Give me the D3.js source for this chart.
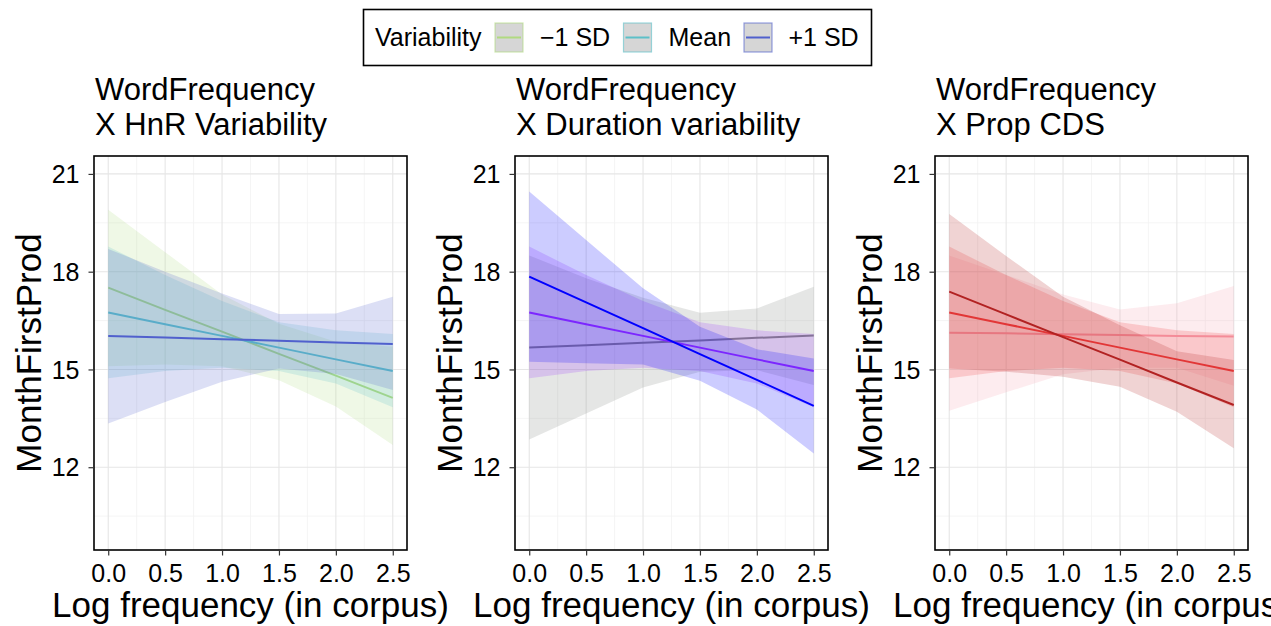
<!DOCTYPE html>
<html>
<head>
<meta charset="utf-8">
<script src="https://cdn.jsdelivr.net/npm/d3@7"></script>
<style>
  body { margin: 0; background: #fff; }
  text { font-family: "Liberation Sans", Arial, sans-serif; fill: #000; }
</style>
</head>
<body>
<script>
var levels = ["\u22121 SD", "Mean", "+1 SD"];
var freq = [0, 0.5, 1, 1.5, 2, 2.5];
var xTicks = [0, 0.5, 1, 1.5, 2, 2.5];
var yTicks = [12, 15, 18, 21];
var titles = [["WordFrequency", "X HnR Variability"],
              ["WordFrequency", "X Duration variability"],
              ["WordFrequency", "X Prop CDS"]];

// rows: -1 SD, Mean, +1 SD
var hnrFit = [[17.51, 16.83, 16.16, 15.48, 14.81, 14.13],
              [16.75, 16.39, 16.03, 15.67, 15.31, 14.95],
              [16.03, 15.98, 15.93, 15.88, 15.83, 15.78]];
var hnrLow = [[15.10, 15.15, 15.10, 14.67, 13.86, 12.68],
              [14.73, 14.95, 15.05, 14.95, 14.57, 13.84],
              [13.34, 14.00, 14.62, 15.03, 14.86, 14.37]];
var hnrHigh = [[19.90, 18.60, 17.30, 16.40, 15.85, 15.70],
               [18.77, 17.90, 17.10, 16.45, 16.20, 16.09],
               [18.70, 18.00, 17.33, 16.70, 16.72, 17.23]];

var durFit = [[15.67, 15.74, 15.82, 15.89, 15.97, 16.04],
              [16.75, 16.39, 16.03, 15.67, 15.31, 14.95],
              [17.85, 17.06, 16.27, 15.47, 14.68, 13.88]];
var durLow = [[12.85, 13.65, 14.45, 14.93, 14.98, 14.52],
              [14.73, 14.95, 15.05, 14.95, 14.57, 13.84],
              [15.24, 15.19, 15.15, 14.65, 13.77, 12.42]];
var durHigh = [[18.50, 17.80, 17.20, 16.74, 16.87, 17.54],
               [18.77, 17.90, 17.10, 16.45, 16.20, 16.09],
               [20.46, 18.97, 17.49, 16.31, 15.62, 15.34]];

var cdsFit = [[16.13, 16.11, 16.08, 16.06, 16.03, 16.01],
              [16.75, 16.39, 16.03, 15.67, 15.31, 14.95],
              [17.39, 16.69, 15.99, 15.30, 14.60, 13.91]];
var cdsLow = [[13.73, 14.30, 14.85, 15.05, 15.05, 14.50],
              [14.73, 14.95, 15.05, 14.95, 14.57, 13.84],
              [15.03, 14.93, 14.78, 14.47, 13.70, 12.58]];
var cdsHigh = [[18.50, 17.90, 17.30, 16.84, 17.03, 17.56],
               [18.77, 17.90, 17.10, 16.45, 16.20, 16.09],
               [19.77, 18.48, 17.23, 16.36, 15.56, 15.29]];

var panelColors = [["#b0da80", "#5cc0c8", "#5060cd"],
                   ["#7f827f", "#9b30ff", "#0000ff"],
                   ["#f5a0b0", "#ee3b3b", "#b22222"]];

var panels = [
  {fit: hnrFit, low: hnrLow, high: hnrHigh, left: 94},
  {fit: durFit, low: durLow, high: durHigh, left: 515},
  {fit: cdsFit, low: cdsLow, high: cdsHigh, left: 935}
];

var width = 1271, height = 626;
var pw = 313, plotTop = 156, plotBottom = 550;

var svg = d3.select("body").append("svg")
    .attr("width", width)
    .attr("height", height);

var y = d3.scaleLinear().domain([9.46, 21.55]).range([plotBottom, plotTop]);

panels.forEach(function(p, k) {
  var x = d3.scaleLinear().domain([-0.125, 2.625]).range([p.left, p.left + pw]);
  var g = svg.append("g");

  // grid
  var xMinor = [0.25, 0.75, 1.25, 1.75, 2.25];
  var yMinor = [10.5, 13.5, 16.5, 19.5];
  g.selectAll(".xminor").data(xMinor).enter().append("line")
    .attr("x1", function(d){ return x(d); }).attr("x2", function(d){ return x(d); })
    .attr("y1", plotTop).attr("y2", plotBottom)
    .attr("stroke", "#f2f2f2").attr("stroke-width", 0.8);
  g.selectAll(".yminor").data(yMinor).enter().append("line")
    .attr("x1", p.left).attr("x2", p.left + pw)
    .attr("y1", function(d){ return y(d); }).attr("y2", function(d){ return y(d); })
    .attr("stroke", "#f2f2f2").attr("stroke-width", 0.8);
  g.selectAll(".xmajor").data(xTicks).enter().append("line")
    .attr("x1", function(d){ return x(d); }).attr("x2", function(d){ return x(d); })
    .attr("y1", plotTop).attr("y2", plotBottom)
    .attr("stroke", "#e6e6e6").attr("stroke-width", 1.1);
  g.selectAll(".ymajor").data(yTicks).enter().append("line")
    .attr("x1", p.left).attr("x2", p.left + pw)
    .attr("y1", function(d){ return y(d); }).attr("y2", function(d){ return y(d); })
    .attr("stroke", "#e6e6e6").attr("stroke-width", 1.1);

  var area = d3.area()
    .x(function(d, i){ return x(freq[i]); })
    .y0(function(d){ return y(d[0]); })
    .y1(function(d){ return y(d[1]); });
  var line = d3.line()
    .x(function(d, i){ return x(freq[i]); })
    .y(function(d){ return y(d); });

  // ribbon then line for each level
  levels.forEach(function(lv, i) {
    var band = p.low[i].map(function(v, j){ return [v, p.high[i][j]]; });
    g.append("path").attr("d", area(band))
      .attr("fill", panelColors[k][i]).attr("fill-opacity", 0.2);
    g.append("path").attr("d", line(p.fit[i]))
      .attr("fill", "none").attr("stroke", panelColors[k][i]).attr("stroke-width", 2);
  });

  // border
  g.append("rect").attr("x", p.left).attr("y", plotTop)
    .attr("width", pw).attr("height", plotBottom - plotTop)
    .attr("fill", "none").attr("stroke", "#000").attr("stroke-width", 1.6);

  // axes
  var xAxis = d3.axisBottom(x).tickValues(xTicks).tickFormat(d3.format(".1f"))
    .tickSize(5.5).tickPadding(4);
  var ax = g.append("g").attr("transform", "translate(0," + plotBottom + ")").call(xAxis);
  var yAxis = d3.axisLeft(y).tickValues(yTicks).tickSize(5.5).tickPadding(4);
  var ay = g.append("g").attr("transform", "translate(" + p.left + ",0)").call(yAxis);
  [ax, ay].forEach(function(a) {
    a.select(".domain").remove();
    a.selectAll(".tick line").attr("stroke", "#333").attr("stroke-width", 1.2);
    a.selectAll(".tick text").style("font-size", "25px")
      .style("font-family", "'Liberation Sans', Arial, sans-serif").attr("fill", "#000");
  });
  ax.selectAll(".tick text").attr("dy", null).attr("y", 32);
  ay.selectAll(".tick text").attr("x", -14.5).attr("dy", "0.35em");

  // titles
  g.append("text").attr("x", p.left + 1).attr("y", 100).style("font-size", "31px").text(titles[k][0]);
  g.append("text").attr("x", p.left + 1).attr("y", 135).style("font-size", "31px").text(titles[k][1]);

  // axis labels
  g.append("text").attr("x", p.left + pw / 2).attr("y", 617)
    .attr("text-anchor", "middle").style("font-size", "35px")
    .text("Log frequency (in corpus)");
  g.append("text")
    .attr("transform", "translate(" + (p.left - 53) + "," + ((plotTop + plotBottom) / 2) + ") rotate(-90)")
    .attr("text-anchor", "middle").style("font-size", "35px")
    .text("MonthFirstProd");
});

// legend
var legend = svg.append("g");
legend.append("rect").attr("x", 363.5).attr("y", 9.5).attr("width", 508).attr("height", 56)
  .attr("fill", "#fff").attr("stroke", "#000").attr("stroke-width", 1.6);
legend.append("text").attr("x", 375).attr("y", 46).style("font-size", "25px").text("Variability");

var keyX = [495, 623.5, 744];
var labX = [540, 668.5, 788.5];
levels.forEach(function(lv, i) {
  var c = panelColors[0][i];
  legend.append("rect").attr("x", keyX[i]).attr("y", 23).attr("width", 28).attr("height", 29)
    .attr("fill", "#d6d6d6").attr("stroke", c).attr("stroke-opacity", 0.6).attr("stroke-width", 1.2);
  legend.append("line").attr("x1", keyX[i] + 2).attr("x2", keyX[i] + 26)
    .attr("y1", 37.5).attr("y2", 37.5).attr("stroke", c).attr("stroke-width", 2);
  legend.append("text").attr("x", labX[i]).attr("y", 46).style("font-size", "25px").text(lv);
});
</script>
</body>
</html>
